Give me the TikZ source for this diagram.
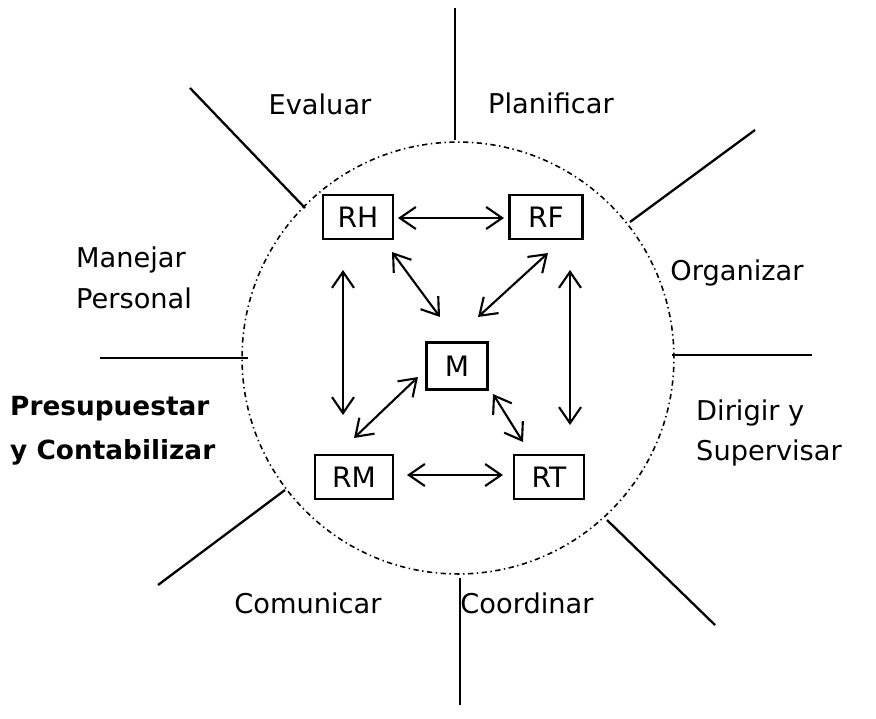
\documentclass[tikz,border=0pt]{standalone}
\usepackage{fontspec}
\setmainfont{DejaVu Sans}
\usetikzlibrary{arrows.meta}
\tikzstyle{link} = [line width=1.2pt,<->,>={Straight Barb[length=3.2mm,width=4.4mm]}]
\tikzstyle{spoke} = [line width=1.3pt]
\tikzstyle{box} = [draw, line width=1.3pt, minimum width=1.4cm, minimum height=0.88cm, inner sep=2pt, font=\fontsize{16}{18}\selectfont]
\tikzstyle{task} = [font=\fontsize{15.5}{23}\selectfont, align=left]

\begin{document}
\begin{tikzpicture}[x=0.02cm,y=-0.02cm]
		\useasboundingbox (0,0) rectangle (876,718);

		% dotted ring
		\draw[line width=0.9pt, dash pattern=on 3pt off 2pt on 0.8pt off 2pt] (458,358) circle [radius=4.32cm];

		% eight spokes
		\draw[spoke] (455,8) -- (455,140);
		\draw[spoke] (460,578) -- (460,705);
		\draw[spoke] (100,358) -- (248,358);
		\draw[spoke] (672,355) -- (812,355);
		\draw[spoke] (190,88) -- (305,208);
		\draw[spoke] (630,222) -- (755,130);
		\draw[spoke] (158,585) -- (285,490);
		\draw[spoke] (607,520) -- (715,625);

		% functions
		\node[task] (evaluar) at (320,104) {Evaluar};
		\node[task] (planificar) at (551,103) {Planificar};
		\node[task, anchor=west] (manejar) at (70,278) {Manejar\\Personal};
		\node[task] (organizar) at (737,273) {Organizar};
		\node[task, anchor=west, font=\fontsize{15}{25}\selectfont\bfseries] (presup) at (4,431) {Presupuestar\\y Contabilizar};
		\node[task, anchor=west] (dirigir) at (690,433) {Dirigir y\\Supervisar};
		\node[task] (comunicar) at (308,603) {Comunicar};
		\node[task] (coordinar) at (527,603) {Coordinar};

		% resources
		\node[box] (RH) at (358,217) {RH};
		\node[box, minimum width=1.46cm] (RF) at (546,217) {RF};
		\node[box, minimum width=1.22cm, minimum height=0.94cm] (M) at (457,366) {M};
		\node[box, minimum width=1.55cm] (RM) at (354,477) {RM};
		\node[box] (RT) at (549,477) {RT};

		\draw[link] ([shift={(40,1)}]RH.center) -- ([shift={(-42,1)}]RF.center);
		\draw[link] ([shift={(34,35)}]RH.center) -- ([shift={(-17,-49)}]M.center);
		\draw[link] ([shift={(2,36)}]RF.center) -- ([shift={(21,-49)}]M.center);
		\draw[link] ([shift={(-15,53)}]RH.center) -- ([shift={(-11,-62)}]RM.center);
		\draw[link] ([shift={(24,53)}]RF.center) -- ([shift={(21,-52)}]RT.center);
		\draw[link] ([shift={(-39,11)}]M.center) -- ([shift={(0,-39)}]RM.center);
		\draw[link] ([shift={(36,28)}]M.center) -- ([shift={(-26,-35)}]RT.center);
		\draw[link] ([shift={(53,-2)}]RM.center) -- ([shift={(-46,-2)}]RT.center);
	\end{tikzpicture}
\end{document}
